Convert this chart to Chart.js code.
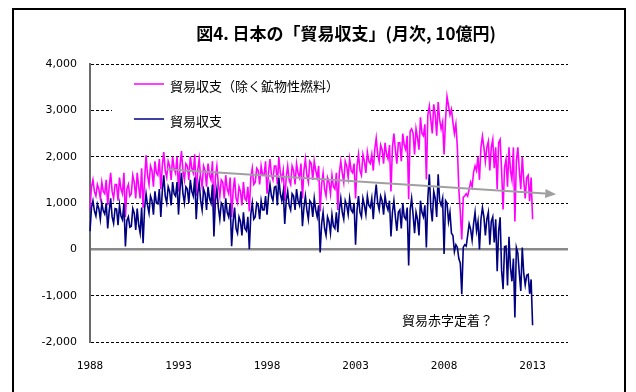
<!DOCTYPE html>
<html>
<head>
<meta charset="utf-8">
<script src="https://cdn.jsdelivr.net/npm/chart.js@4/dist/chart.umd.min.js"></script>
<style>
  html, body { margin: 0; padding: 0; background: #fff; }
  canvas { display: block; }
</style>
</head>
<body>
<canvas id="c" width="636" height="392"></canvas>
<script>
// Japan monthly trade balance, 10億円 (billion yen), Jan 1988 – Jan 2013.
// One row per calendar year (Jan..Dec).

// 貿易収支 (total trade balance)
const balanceByYear = [
  [390, 900, 1050, 830, 720, 980, 880, 650, 1000, 830, 760, 1000],      // 1988
  [450, 830, 1100, 700, 560, 880, 870, 520, 960, 720, 640, 990],        // 1989
  [60, 620, 700, 480, 500, 880, 780, 420, 880, 530, 350, 900],          // 1990
  [130, 880, 1200, 950, 780, 1150, 1050, 750, 1250, 1000, 980, 1300],   // 1991
  [700, 1250, 1600, 1150, 1000, 1350, 1250, 950, 1450, 1200, 1150, 1450], // 1992
  [750, 1300, 1650, 1200, 1000, 1350, 1300, 1000, 1500, 1250, 1150, 1550], // 1993
  [650, 1200, 1450, 1050, 850, 1300, 1200, 850, 1350, 1100, 1000, 1400], // 1994
  [280, 1050, 1300, 900, 650, 1000, 950, 600, 1100, 800, 700, 1000],    // 1995
  [65, 600, 900, 450, 350, 700, 600, 300, 800, 450, 400, 700],          // 1996
  [0, 750, 1000, 650, 700, 1000, 950, 650, 1050, 850, 850, 1150],       // 1997
  [750, 1150, 1400, 1150, 1050, 1340, 1360, 950, 1550, 1200, 1050, 1250], // 1998
  [550, 1050, 1250, 950, 850, 1200, 1150, 850, 1300, 1050, 950, 1250],  // 1999
  [500, 900, 1150, 850, 650, 1050, 1000, 700, 1100, 850, 700, 950],     // 2000
  [-70, 550, 800, 450, 300, 700, 600, 350, 750, 500, 450, 800],         // 2001
  [370, 850, 1100, 800, 650, 1050, 950, 750, 1100, 850, 800, 1000],     // 2002
  [100, 850, 1150, 800, 700, 1100, 950, 750, 1150, 950, 900, 1100],     // 2003
  [650, 1100, 1400, 1000, 850, 1150, 1050, 750, 1150, 950, 850, 1050],  // 2004
  [280, 800, 1050, 700, 400, 800, 850, 450, 1000, 700, 650, 900],       // 2005
  [-350, 850, 1100, 750, 350, 800, 650, 300, 1050, 800, 700, 950],      // 2006
  [40, 1100, 1620, 900, 600, 1250, 1100, 700, 1620, 1050, 950, 1100],   // 2007
  [-100, 1050, 1000, 600, 800, 350, 300, -50, 100, 40, -200, -300],     // 2008
  [-970, 40, 100, 70, 300, 550, 430, 200, 550, 800, 400, 600],          // 2009
  [0, 650, 900, 700, 300, 650, 800, 100, 600, 700, 150, 650],           // 2010
  [-470, 400, 690, -460, -860, 60, 70, -780, 270, -390, -690, -200],    // 2011
  [-1470, 40, -80, -520, -900, 40, -520, -770, -560, -540, -960, -650], // 2012
  [-1640]                                                               // 2013
];

// 貿易収支（除く鉱物性燃料） (trade balance excluding mineral fuels)
const exFuelByYear = [
  [860, 1350, 1500, 1250, 1150, 1400, 1300, 1100, 1450, 1250, 1200, 1500], // 1988
  [950, 1350, 1650, 1250, 1100, 1400, 1400, 1050, 1550, 1300, 1200, 1650], // 1989
  [700, 1300, 1400, 1150, 1200, 1600, 1450, 1100, 1650, 1350, 1100, 1750], // 1990
  [900, 1500, 2030, 1600, 1400, 1800, 1700, 1350, 1900, 1650, 1600, 1950], // 1991
  [1300, 1800, 2100, 1700, 1550, 1900, 1800, 1500, 2000, 1750, 1650, 2000], // 1992
  [1250, 1800, 2120, 1700, 1500, 1850, 1800, 1500, 2000, 1750, 1650, 2050], // 1993
  [1150, 1700, 1950, 1550, 1350, 1800, 1700, 1350, 1850, 1600, 1500, 1900], // 1994
  [800, 1550, 1800, 1400, 1150, 1500, 1450, 1100, 1600, 1300, 1200, 1550], // 1995
  [700, 1250, 1550, 1100, 1000, 1350, 1250, 950, 1450, 1100, 1050, 1350],  // 1996
  [820, 1550, 1750, 1400, 1450, 1750, 1700, 1400, 1800, 1600, 1600, 1900], // 1997
  [1200, 1650, 1950, 1600, 1500, 1800, 1800, 1400, 1990, 1650, 1500, 1700], // 1998
  [1050, 1550, 1800, 1500, 1400, 1800, 1700, 1400, 1850, 1650, 1550, 1850], // 1999
  [1100, 1700, 1950, 1600, 1450, 1900, 1850, 1500, 1900, 1700, 1550, 1800], // 2000
  [820, 1400, 1650, 1300, 1150, 1550, 1450, 1200, 1600, 1350, 1300, 1650], // 2001
  [850, 1650, 1900, 1650, 1450, 1900, 1800, 1550, 1950, 1700, 1650, 1850], // 2002
  [1100, 1800, 2050, 1700, 1600, 2050, 1900, 1650, 2100, 1900, 1850, 2050], // 2003
  [1700, 2150, 2400, 2050, 1900, 2250, 2150, 1850, 2300, 2050, 1950, 2250], // 2004
  [1250, 2200, 2500, 2150, 1850, 2300, 2300, 1900, 2500, 2250, 2150, 2450], // 2005
  [1080, 2550, 2600, 2500, 2050, 2600, 2400, 2150, 2850, 2500, 2450, 2700], // 2006
  [1510, 2900, 3090, 2800, 2500, 3130, 2900, 2450, 3180, 2800, 2600, 2750], // 2007
  [2050, 2800, 3300, 3100, 2900, 3020, 2740, 2500, 2700, 2200, 1300, 800],  // 2008
  [215, 1120, 1150, 1200, 1150, 1300, 1450, 1350, 1660, 1800, 1700, 2000],  // 2009
  [1500, 2200, 2440, 2200, 1900, 2200, 2330, 1700, 2200, 2370, 1750, 2200], // 2010
  [1300, 2300, 2370, 1700, 860, 1770, 1940, 1350, 2200, 1700, 1500, 2200],  // 2011
  [600, 1900, 2200, 1700, 1300, 2000, 1500, 1100, 1550, 1600, 1040, 1550],  // 2012
  [650]                                                                     // 2013
];

// Year labels shown under the axis (at January of each year)
const yearTicks = ['1988', '1993', '1998', '2003', '2008', '2013'];

// Gray trend arrow: [month label, value] at the tail and at the tip
const trendStart = ['1992-05', 1730];
const trendEnd = ['2014-05', 1190];

const seriesNames = ['貿易収支（除く鉱物性燃料）', '貿易収支'];
const seriesColors = ['#ff00ff', '#000080'];
const titleText = '図4. 日本の「貿易収支」(月次, 10億円)';
const noteText = '貿易赤字定着？';

// Month categories: the axis runs Jan 1988 .. Jan 2015
const months = [];
for (let y = 1988; y <= 2015; y++) {
  for (let m = 1; m <= 12; m++) {
    if (y === 2015 && m > 1) break;
    months.push(y + '-' + String(m).padStart(2, '0'));
  }
}

const balance = balanceByYear.flat();
const exFuel = exFuelByYear.flat();

const JP = '"Noto Sans CJK JP", "Noto Sans", sans-serif';

const decorations = {
  id: 'decorations',
  beforeDraw(chart) {
    const ctx = chart.ctx;
    ctx.save();
    ctx.fillStyle = '#fff';
    ctx.fillRect(0, 0, chart.width, chart.height);
    ctx.restore();
  },
  beforeDatasetsDraw(chart) {
    // white legend panel sits over the gridlines
    const ctx = chart.ctx;
    ctx.save();
    ctx.fillStyle = '#fff';
    ctx.fillRect(112, 70, 259, 62);
    ctx.restore();
  },
  afterDatasetsDraw(chart) {
    const ctx = chart.ctx;
    const xs = chart.scales.x, ys = chart.scales.y;

    // trend arrow
    const x1 = xs.getPixelForValue(months.indexOf(trendStart[0]));
    const y1 = ys.getPixelForValue(trendStart[1]);
    const x2 = xs.getPixelForValue(months.indexOf(trendEnd[0]));
    const y2 = ys.getPixelForValue(trendEnd[1]);
    const ang = Math.atan2(y2 - y1, x2 - x1);
    const headLen = 11, headHalf = 4.5;
    const bx = x2 - headLen * Math.cos(ang), by = y2 - headLen * Math.sin(ang);
    ctx.save();
    ctx.strokeStyle = '#a0a0a0';
    ctx.fillStyle = '#a0a0a0';
    ctx.lineWidth = 2;
    ctx.beginPath();
    ctx.moveTo(x1, y1);
    ctx.lineTo(bx, by);
    ctx.stroke();
    ctx.beginPath();
    ctx.moveTo(x2, y2);
    ctx.lineTo(bx - headHalf * Math.sin(ang), by + headHalf * Math.cos(ang));
    ctx.lineTo(bx + headHalf * Math.sin(ang), by - headHalf * Math.cos(ang));
    ctx.closePath();
    ctx.fill();
    ctx.restore();

    // legend
    ctx.save();
    ctx.font = '13px ' + JP;
    ctx.textBaseline = 'middle';
    ctx.fillStyle = '#000';
    const rows = [[84, 86], [119, 121]];
    rows.forEach((r, i) => {
      ctx.strokeStyle = seriesColors[i];
      ctx.lineWidth = 1.5;
      ctx.beginPath();
      ctx.moveTo(134, r[0]);
      ctx.lineTo(164, r[0]);
      ctx.stroke();
      ctx.fillText(seriesNames[i], 170, r[1]);
    });

    // annotation
    ctx.fillText(noteText, 402, 320);
    ctx.restore();
  },
  afterDraw(chart) {
    const ctx = chart.ctx;
    ctx.save();
    ctx.font = 'bold 17px ' + JP;
    ctx.textAlign = 'center';
    ctx.textBaseline = 'middle';
    ctx.fillStyle = '#000';
    ctx.fillText(titleText, 346, 34);
    ctx.strokeStyle = '#000';
    ctx.lineWidth = 2;
    ctx.strokeRect(13, 9, 612, 400);
    ctx.restore();
  }
};

new Chart(document.getElementById('c'), {
  type: 'line',
  data: {
    labels: months,
    datasets: [
      {
        label: seriesNames[0],
        data: exFuel,
        borderColor: seriesColors[0],
        borderWidth: 1.6,
        pointRadius: 0,
        tension: 0,
        order: 2
      },
      {
        label: seriesNames[1],
        data: balance,
        borderColor: seriesColors[1],
        borderWidth: 1.6,
        pointRadius: 0,
        tension: 0,
        order: 1
      }
    ]
  },
  options: {
    responsive: false,
    animation: false,
    devicePixelRatio: 1,
    layout: { padding: { top: 64, right: 68, bottom: 0, left: 0 } },
    plugins: { legend: { display: false }, tooltip: { enabled: false } },
    scales: {
      x: {
        type: 'category',
        offset: false,
        grid: { display: false, drawTicks: false },
        border: { display: false },
        afterFit(s) { s.height = 50; },
        ticks: {
          autoSkip: false,
          maxRotation: 0,
          minRotation: 0,
          padding: 18,
          color: '#000',
          font: { family: '"DejaVu Sans Mono", monospace', size: 11 },
          callback(v) {
            const lab = months[v];
            const yr = lab.slice(0, 4);
            return (lab.endsWith('-01') && yearTicks.includes(yr)) ? yr : '';
          }
        }
      },
      y: {
        min: -2000,
        max: 4000,
        afterFit(s) { s.width = 90; },
        grid: {
          drawTicks: false,
          color: c => (c.tick && c.tick.value === 0) ? '#8a8a8a' : '#000',
          lineWidth: c => (c.tick && c.tick.value === 0) ? 2.5 : 1
        },
        border: {
          display: true,
          color: '#6a6a6a',
          width: 2,
          dash: c => (c.tick && c.tick.value === 0) ? [] : [3, 2]
        },
        ticks: {
          stepSize: 1000,
          padding: 13,
          color: '#000',
          font: { family: '"DejaVu Sans", sans-serif', size: 11 },
          callback: v => v.toLocaleString('en-US')
        }
      }
    }
  },
  plugins: [decorations]
});
</script>
</body>
</html>
